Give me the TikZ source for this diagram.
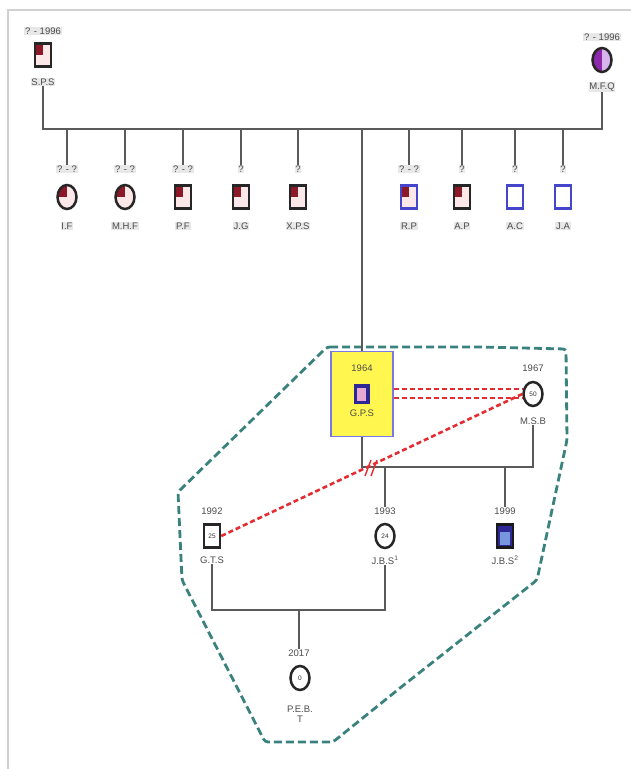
\documentclass[tikz,border=0pt]{standalone}
\usepackage{fontspec}
\setmainfont{Liberation Sans}
\usetikzlibrary{shapes.geometric}
\definecolor{conncol}{RGB}{90,90,90}
\definecolor{teald}{RGB}{58,130,125}
\definecolor{reddsh}{RGB}{228,45,50}
\definecolor{darkred}{RGB}{140,25,40}
\definecolor{palepink}{RGB}{252,232,232}
\definecolor{symblue}{RGB}{70,70,205}
\definecolor{gpsyellow}{RGB}{255,246,80}
\definecolor{gpsblue}{RGB}{120,120,230}
\definecolor{navy}{RGB}{45,40,150}
\definecolor{lilac}{RGB}{215,180,235}
\definecolor{purp}{RGB}{140,40,170}
\definecolor{gpspink}{RGB}{230,170,210}
\definecolor{lightblue}{RGB}{120,150,220}
\begin{document}
\begin{tikzpicture}[x=1pt,y=-1pt,
  conn/.style={draw=conncol, line width=1.8},
  lbl/.style={font=\fontsize{9.5}{10}\selectfont, text=black!70, inner sep=0.8pt},
  tag/.style={lbl, fill=black!9},
  redq/.style={path picture={\fill[darkred] (path picture bounding box.north west) rectangle (path picture bounding box.center);}},
  msym/.style={draw=black!85, line width=2.5, rectangle, minimum width=16, minimum height=23, inner sep=0pt, fill=palepink},
  fsym/.style={draw=black!85, line width=2.5, ellipse, minimum width=19, minimum height=24, inner sep=0pt, fill=palepink},
  age/.style={font=\fontsize{6.5}{7}\selectfont, text=black!80},
  cluster/.style={draw=teald, line width=2.8, dash pattern=on 8pt off 4pt, rounded corners=3},
  hostile/.style={draw=reddsh, line width=2.6, dash pattern=on 5pt off 3pt}
]
\useasboundingbox (0,0) rectangle (631,769);
\fill[white] (0,0) rectangle (631,769);
% frame
\draw[black!18, line width=1.2] (8,769) -- (8,10) -- (631,10);

% cluster outline
\draw[cluster] (327,347) -- (480,347) -- (566,349) -- (567,440) -- (537,580)
  -- (400,688) -- (333,742) -- (265,742) -- (182,580) -- (178,492) -- cycle;

% grandparents
\node[tag] (spst) at (43,31) {? - 1996};
\node[msym, redq] (sps) at (43,55) {};
\node[tag] (spsn) at (43,82) {S.P.S};
\node[tag] (mfqt) at (602,37) {? - 1996};
\node[fsym, fill=lilac, path picture={\fill[purp] (path picture bounding box.north west) rectangle (path picture bounding box.south);}] (mfq) at (602,60) {};
\node[tag] (mfqn) at (602,87) {M.F.Q};

\coordinate (bl) at (43,129);
\coordinate (br) at (602,129);
\draw[conn] (spsn.south) -- (bl) -- (br) -- (mfqn.south);

% children of S.P.S and M.F.Q
\foreach \n/\x/\t/\s/\nm/\c in {
  c1/67/{? - ?}/fsym/I.F/black!85,
  c2/125/{? - ?}/fsym/M.H.F/black!85,
  c3/183/{? - ?}/msym/P.F/black!85,
  c4/241/{?}/msym/J.G/black!85,
  c5/298/{?}/msym/X.P.S/black!85,
  c6/409/{? - ?}/msym/R.P/symblue,
  c7/462/{?}/msym/A.P/black!85}{
  \coordinate (\n d) at (\x,129);
  \node[tag] (\n t) at (\x,169) {\t};
  \node[\s, redq, draw=\c] (\n) at (\x,197) {};
  \node[tag] (\n n) at (\x,226) {\nm};
  \draw[conn] (\n d) -- (\n t.north);
}
\foreach \n/\x/\nm in {c8/515/A.C, c9/563/J.A}{
  \coordinate (\n d) at (\x,129);
  \node[tag] (\n t) at (\x,169) {?};
  \node[msym, draw=symblue, fill=white] (\n) at (\x,197) {};
  \node[tag] (\n n) at (\x,226) {\nm};
  \draw[conn] (\n d) -- (\n t.north);
}

% G.P.S
\coordinate (mid) at (362,129);
\node[draw=gpsblue, line width=1.6, fill=gpsyellow, minimum width=62, minimum height=85, inner sep=0] (gpsbox) at (362,394) {};
\draw[conn] (mid) -- (gpsbox.north);
\node[lbl] (gpsy) at (362,368) {1964};
\node[draw=navy, line width=1.4, fill=navy, minimum width=14, minimum height=19, inner sep=0,
  path picture={\fill[gpspink] ([xshift=2,yshift=-3]path picture bounding box.north west) rectangle ([xshift=-3,yshift=3]path picture bounding box.south east);}] (gps) at (362,394) {};
\node[lbl] (gpsn) at (362,413) {G.P.S};

% M.S.B
\node[lbl] (msby) at (533,368) {1967};
\node[fsym, fill=white] (msb) at (533,394) {};
\node[age] at (msb) {50};
\node[lbl] (msbn) at (533,421) {M.S.B};

% hostile relations
\draw[hostile] ([yshift=5]gpsbox.east) -- ([yshift=5]msb.west);
\draw[hostile] ([yshift=-4]gpsbox.east) -- ([yshift=-4]msb.west);

% couple line G.P.S - M.S.B
\coordinate (m1) at (362,467);
\coordinate (m2) at (533,467);
\draw[conn] (gpsbox.south) -- (m1) -- (m2) -- (msbn.south);

% G.T.S and children of G.P.S and M.S.B
\node[lbl] (gtsy) at (212,511) {1992};
\node[msym, fill=white] (gts) at (212,536) {};
\node[age] at (gts) {25};
\node[lbl] (gtsn) at (212,560) {G.T.S};

\node[lbl] (j1y) at (385,511) {1993};
\node[fsym, fill=white] (j1) at (385,536) {};
\node[age] at (j1) {24};
\node[lbl] (j1n) at (385,560) {J.B.S\textsuperscript{1}};

\node[lbl] (j2y) at (505,511) {1999};
\node[msym, fill=navy, draw=black!90,
  path picture={\fill[lightblue] ([xshift=3,yshift=-7]path picture bounding box.north west) rectangle ([xshift=-3,yshift=3]path picture bounding box.south east);}] (j2) at (505,536) {};
\node[lbl] (j2n) at (505,560) {J.B.S\textsuperscript{2}};

\coordinate (j1d) at (385,467);
\coordinate (j2d) at (505,467);
\draw[conn] (j1d) -- (j1y.north);
\draw[conn] (j2d) -- (j2y.north);

% hostile G.T.S - M.S.B
\draw[hostile] (gts.east) -- (msb.west);
% divorce marks
\draw[reddsh, line width=1.4] (365,476) -- (371,460) (371,476) -- (377,460);

% couple G.T.S - J.B.S1
\coordinate (b1) at (212,610);
\coordinate (b2) at (385,610);
\coordinate (bd) at (299,610);
\draw[conn] (gtsn.south) -- (b1) -- (b2) -- (j1n.south);

\node[lbl] (pby) at (299,653) {2017};
\node[fsym, fill=white] (pb) at (300,678) {};
\node[age] at (pb) {0};
\node[lbl, align=center] (pbn) at (300,714) {P.E.B.\\T};
\draw[conn] (bd) -- (pby.north);
\end{tikzpicture}
\end{document}
